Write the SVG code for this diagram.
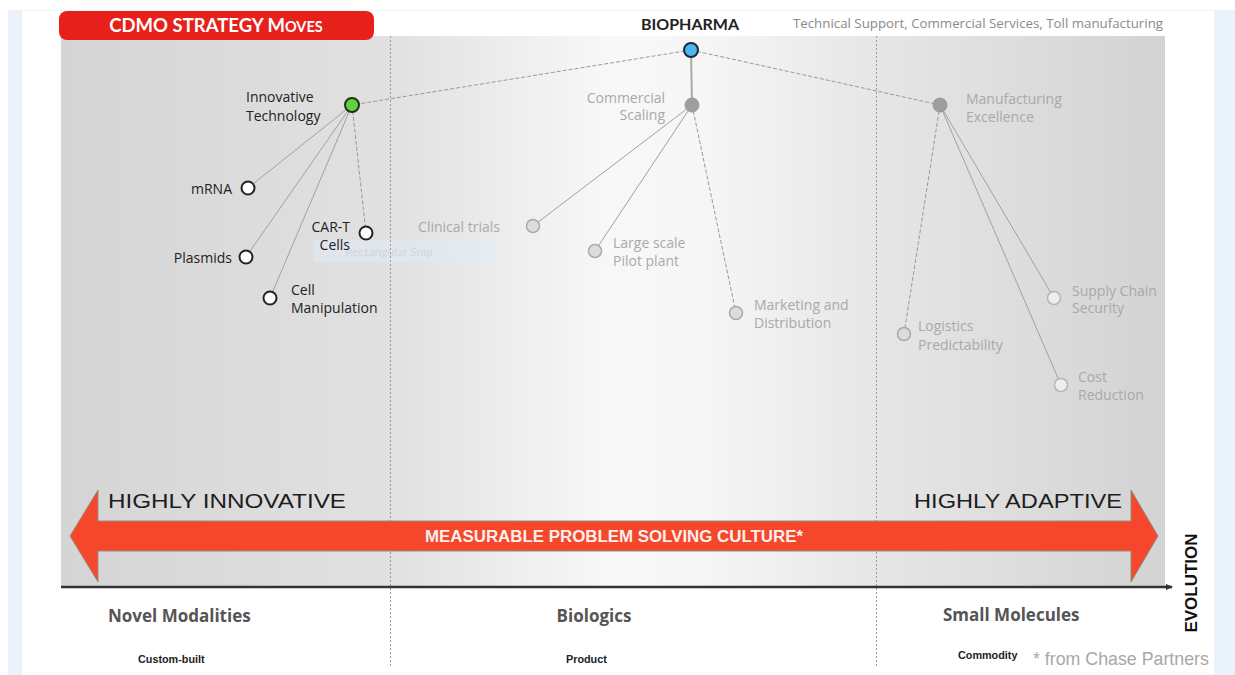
<svg xmlns="http://www.w3.org/2000/svg" width="1235" height="675" viewBox="0 0 1235 675">
<defs>
<linearGradient id="panel" x1="61" y1="0" x2="1165" y2="0" gradientUnits="userSpaceOnUse">
<stop offset="0" stop-color="#d5d5d5"/>
<stop offset="0.3" stop-color="#e1e1e1"/>
<stop offset="0.5" stop-color="#f8f8f8"/>
<stop offset="0.58" stop-color="#f6f6f6"/>
<stop offset="0.74" stop-color="#e6e6e6"/>
<stop offset="1" stop-color="#d3d3d3"/>
</linearGradient>
<marker id="axisHead" markerWidth="8" markerHeight="8" refX="6" refY="4" orient="auto" markerUnits="userSpaceOnUse">
<path d="M0,1 L7,4 L0,7 Z" fill="#333"/>
</marker>
</defs>
<style>
.lbl{font-family:"Open Sans",Lato,"Liberation Sans",sans-serif;font-size:14px}
.dark{fill:#222}
.gray{fill:#a9a9a9}
.cat{font-family:"Open Sans","Liberation Sans",sans-serif;font-weight:bold;font-size:17px;fill:#555}
.sub{font-family:"Liberation Sans",sans-serif;font-weight:bold;font-size:10.8px;fill:#222}
.big{font-family:"Liberation Sans",sans-serif;font-size:20px;fill:#1e1e1e}
.solid{stroke:#a0a0a0;stroke-width:1;fill:none}
.dash{stroke:#999;stroke-width:1;stroke-dasharray:4 2;fill:none}
.vdot{stroke:#9a9a9a;stroke-width:1;stroke-dasharray:2 2}
.openDark{fill:#fff;stroke:#222;stroke-width:2}
.openLight{fill:#dcdcdc;stroke:#aaa;stroke-width:1.5}
.openWhite{fill:#eee;stroke:#b5b5b5;stroke-width:1.5}
.hub{fill:#9e9e9e;stroke:#999;stroke-width:1}
</style>
<!-- page background -->
<rect x="0" y="0" width="1235" height="675" fill="#ffffff"/>
<rect x="8" y="10" width="14" height="665" fill="#eaf2fc"/>
<rect x="1214" y="10" width="21" height="665" fill="#eaf2fc"/>
<line x1="22" y1="10.5" x2="1214" y2="10.5" stroke="#eef3f8" stroke-width="1"/>
<!-- panel -->
<rect x="61" y="36" width="1104" height="551" fill="url(#panel)"/>
<!-- faint snip -->
<g id="snip" opacity="0.55">
<rect x="313" y="240" width="184" height="22" fill="#e2ecf6"/>
<text x="345" y="256" font-family="Lato,'Liberation Sans',sans-serif" font-size="12" fill="#c4cdd6">Rectangular Snip</text>
</g>
<!-- dividers -->
<line class="vdot" x1="390.5" y1="36" x2="390.5" y2="667"/>
<line class="vdot" x1="876.5" y1="36" x2="876.5" y2="667"/>
<!-- title bar -->
<g id="title">
<rect x="59" y="11" width="315" height="29" rx="8" ry="8" fill="#e8201c"/>
<text x="216" y="32" text-anchor="middle" font-family="Lato,'Open Sans','Liberation Sans',sans-serif" font-size="18.5" fill="#fff" font-weight="bold">CDMO  STRATEGY M<tspan font-size="14.5">OVES</tspan></text>
</g>
<!-- top labels -->
<text x="690" y="30" text-anchor="middle" font-family="Lato,'Open Sans','Liberation Sans',sans-serif" font-size="16" font-weight="bold" fill="#222">BIOPHARMA</text>
<text x="1163" y="28" text-anchor="end" font-family="'Open Sans',Lato,'Liberation Sans',sans-serif" font-size="13.3" fill="#8a8a8a">Technical Support, Commercial Services, Toll manufacturing</text>
<!-- connectors -->
<g id="connectors">
<line class="dash" x1="691" y1="50" x2="352" y2="105"/>
<line x1="691" y1="50" x2="692" y2="105" stroke="#a8a8a8" stroke-width="2"/>
<line class="dash" x1="691" y1="50" x2="940" y2="105"/>
<line class="solid" x1="352" y1="105" x2="248" y2="188"/>
<line class="solid" x1="352" y1="105" x2="246" y2="257"/>
<line class="solid" x1="352" y1="105" x2="270" y2="298"/>
<line class="dash" x1="352" y1="105" x2="366" y2="233"/>
<line class="solid" x1="692" y1="105" x2="533" y2="226"/>
<line class="solid" x1="692" y1="105" x2="595" y2="251"/>
<line class="dash" x1="692" y1="105" x2="736" y2="313"/>
<line class="dash" x1="940" y1="105" x2="904" y2="334"/>
<line class="solid" x1="940" y1="105" x2="1054" y2="298"/>
<line class="solid" x1="940" y1="105" x2="1061" y2="385"/>
</g>
<!-- nodes -->
<g id="biopharma"><circle cx="691" cy="50" r="7" fill="#4db5f2" stroke="#1d2a35" stroke-width="2"/></g>
<g id="innovative-technology">
<circle cx="352" cy="105" r="7" fill="#5fd23c" stroke="#1f2f1a" stroke-width="2"/>
<text class="lbl dark" x="246" y="102">Innovative</text>
<text class="lbl dark" x="246" y="121">Technology</text>
</g>
<g id="commercial-scaling">
<circle class="hub" cx="692" cy="105" r="7"/>
<text class="lbl gray" x="665" y="103" text-anchor="end">Commercial</text>
<text class="lbl gray" x="665" y="120" text-anchor="end">Scaling</text>
</g>
<g id="manufacturing-excellence">
<circle class="hub" cx="940" cy="105" r="7"/>
<text class="lbl gray" x="966" y="104">Manufacturing</text>
<text class="lbl gray" x="966" y="122">Excellence</text>
</g>
<g id="mrna">
<circle class="openDark" cx="248" cy="188" r="6.5"/>
<text class="lbl dark" x="232" y="194" text-anchor="end">mRNA</text>
</g>
<g id="plasmids">
<circle class="openDark" cx="246" cy="257" r="6.5"/>
<text class="lbl dark" x="232" y="263" text-anchor="end">Plasmids</text>
</g>
<g id="cell-manipulation">
<circle class="openDark" cx="270" cy="298" r="6.5"/>
<text class="lbl dark" x="291" y="295">Cell</text>
<text class="lbl dark" x="291" y="313">Manipulation</text>
</g>
<g id="car-t-cells">
<circle class="openDark" cx="366" cy="233" r="6.5"/>
<text class="lbl dark" x="350" y="232" text-anchor="end">CAR-T</text>
<text class="lbl dark" x="350" y="250" text-anchor="end">Cells</text>
</g>
<g id="clinical-trials">
<circle class="openLight" cx="533" cy="226" r="6.5"/>
<text class="lbl gray" x="500" y="232" text-anchor="end">Clinical trials</text>
</g>
<g id="large-scale">
<circle class="openLight" cx="595" cy="251" r="6.5"/>
<text class="lbl gray" x="613" y="248">Large scale</text>
<text class="lbl gray" x="613" y="266">Pilot plant</text>
</g>
<g id="marketing">
<circle class="openLight" cx="736" cy="313" r="6.5"/>
<text class="lbl gray" x="754" y="310">Marketing and</text>
<text class="lbl gray" x="754" y="328">Distribution</text>
</g>
<g id="logistics">
<circle class="openLight" cx="904" cy="334" r="6.5"/>
<text class="lbl gray" x="918" y="331">Logistics</text>
<text class="lbl gray" x="918" y="350">Predictability</text>
</g>
<g id="supply-chain">
<circle class="openWhite" cx="1054" cy="298" r="6.5"/>
<text class="lbl gray" x="1072" y="296">Supply Chain</text>
<text class="lbl gray" x="1072" y="313">Security</text>
</g>
<g id="cost-reduction">
<circle class="openWhite" cx="1061" cy="385" r="6.5"/>
<text class="lbl gray" x="1078" y="382">Cost</text>
<text class="lbl gray" x="1078" y="400">Reduction</text>
</g>
<!-- big arrow -->
<g id="culture-arrow">
<polygon points="70,536 98,490 98,521 1131,521 1131,490 1158,536 1131,582 1131,551 98,551 98,582" fill="#f4472b" stroke="#9b8a86" stroke-width="1"/>
<text x="425" y="542" textLength="378" lengthAdjust="spacingAndGlyphs" font-family="'Liberation Sans',sans-serif" font-weight="bold" font-size="16" fill="#fdf0ec">MEASURABLE PROBLEM SOLVING CULTURE*</text>
</g>
<text class="big" x="108" y="508" textLength="238" lengthAdjust="spacingAndGlyphs">HIGHLY INNOVATIVE</text>
<text class="big" x="914" y="508" textLength="208" lengthAdjust="spacingAndGlyphs">HIGHLY ADAPTIVE</text>
<!-- axis -->
<g id="axis">
<line x1="61" y1="587" x2="1172" y2="587" stroke="#333" stroke-width="2.5" marker-end="url(#axisHead)"/>
<text x="0" y="0" transform="translate(1197,583) rotate(-90)" text-anchor="middle" font-family="'Liberation Sans',sans-serif" font-weight="bold" font-size="17" fill="#111">EVOLUTION</text>
</g>
<!-- categories -->
<text class="cat" x="108" y="622">Novel Modalities</text>
<text class="cat" x="594" y="622" text-anchor="middle">Biologics</text>
<text class="cat" x="943" y="621">Small Molecules</text>
<text class="sub" x="138" y="663">Custom-built</text>
<text class="sub" x="566" y="663">Product</text>
<text class="sub" x="958" y="659">Commodity</text>
<text x="1033" y="665" font-family="'Liberation Sans',sans-serif" font-size="17.8" fill="#a8a8a8">* from Chase Partners</text>
</svg>
